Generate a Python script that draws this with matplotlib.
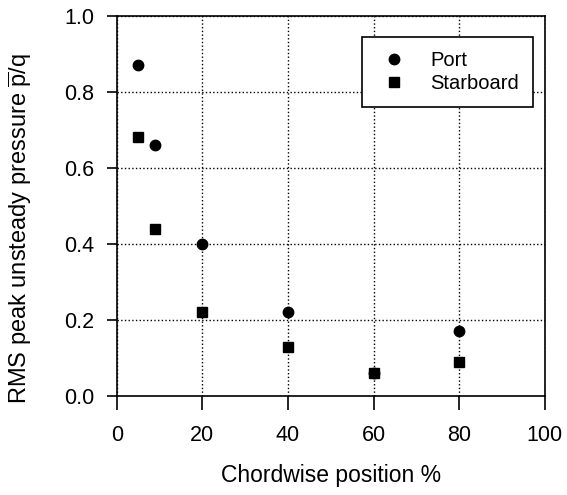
import matplotlib
matplotlib.use("Agg")
import matplotlib.pyplot as plt

plt.rcParams['font.family'] = ['Liberation Sans', 'DejaVu Sans']
plt.rcParams['mathtext.fontset'] = 'custom'
plt.rcParams['mathtext.rm'] = 'Liberation Sans'
plt.rcParams['mathtext.it'] = 'Liberation Sans'

port_x = [5, 9, 20, 40, 60, 80]
port_y = [0.87, 0.66, 0.40, 0.22, 0.06, 0.17]
star_x = [5, 9, 20, 40, 60, 80]
star_y = [0.68, 0.44, 0.22, 0.13, 0.06, 0.09]

fig = plt.figure(figsize=(5.67, 4.95), dpi=100)
ax = fig.add_axes([0.206, 0.2, 0.755, 0.768])

ax.plot(port_x, port_y, 'o', color='black', markersize=7.5, label='Port', zorder=3)
ax.plot(star_x, star_y, 's', color='black', markersize=6.5, label='Starboard', zorder=3)

ax.set_xlim(0, 100)
ax.set_ylim(0, 1.0)
ax.set_xticks([0, 20, 40, 60, 80, 100])
ax.set_yticks([0.0, 0.2, 0.4, 0.6, 0.8, 1.0])
ax.set_yticklabels(['0.0', '0.2', '0.4', '0.6', '0.8', '1.0'])
ax.tick_params(direction='out', width=1.2, labelsize=15.5, color='black')
ax.tick_params(axis='x', length=10, pad=11)
ax.tick_params(axis='y', length=7, pad=9)
ax.grid(True, linestyle=':', color='black', linewidth=1.0)
for s in ax.spines.values():
    s.set_linewidth(1.2)

ax.set_xlabel('Chordwise position %', fontsize=16.5)
ax.set_ylabel(r'RMS peak unsteady pressure $\overline{\mathrm{p}}$/q', fontsize=17)
ax.xaxis.set_label_coords(0.5, -0.178)
ax.yaxis.set_label_coords(-0.193, 0.44)

leg = ax.legend(loc='upper right', bbox_to_anchor=(0.972, 0.945), fontsize=14.5,
                fancybox=False, framealpha=1, edgecolor='black', borderpad=0.7,
                handletextpad=0.9, borderaxespad=0, handlelength=1.8,
                labelspacing=0.2)
leg.get_frame().set_linewidth(1.2)

fig.savefig('out.png', dpi=100)
